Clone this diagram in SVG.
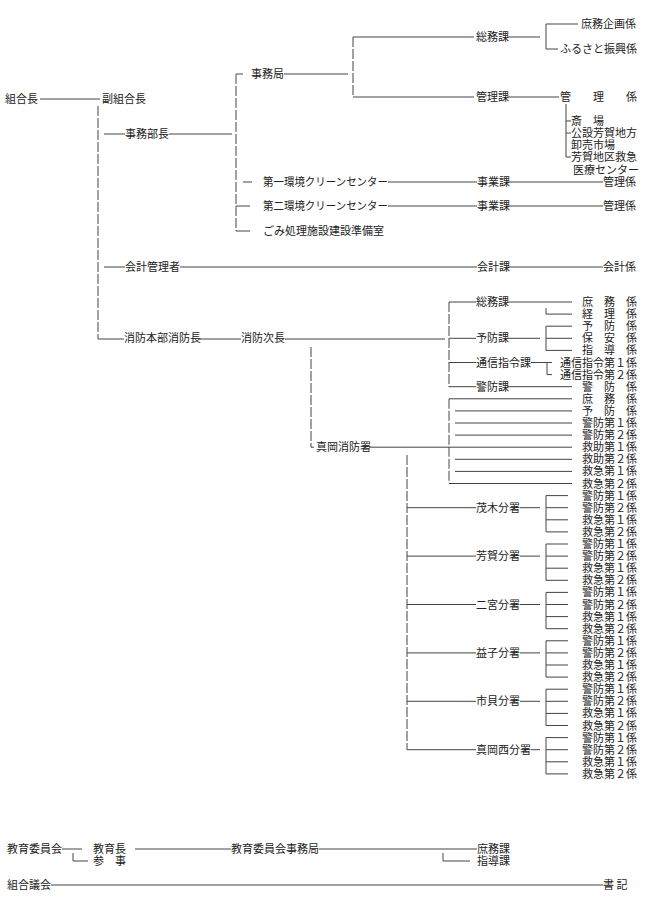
<svg xmlns="http://www.w3.org/2000/svg" width="650" height="912" viewBox="0 0 650 912">
<style>
.t{font-family:"Noto Sans CJK JP","Noto Sans CJK SC",sans-serif;font-size:11px;fill:#222}
.l{stroke:#444;stroke-width:1;fill:none}
.d{stroke-dasharray:10 2}
</style>
<rect width="650" height="912" fill="#fff"/>
<g id="connectors">
<path class="l" d="M40 99H100M104 134H125M169 134H232M104 267H125M180 267H477M98 339H124M200 339H241M285 339H445"/>
<path class="l d" d="M98 106V339"/>
<path class="l d" d="M236 74V231"/>
<path class="l" d="M236 74H243M243 182H252M236 206H250M236 231H250M284 74H348"/>
<path class="l d" d="M353 37V97"/>
<path class="l" d="M353 37H474M353 97H474M507 37H540M546 24H578M546 49H558M507 97H559"/>
<path class="l" d="M546 24V49"/>
<path class="l" d="M566 104V157M566 121H571M566 133H571M566 157H571"/>
<path class="l" d="M388 182H477M507 182H603M388 206H477M507 206H603M507 267H603"/>
<path class="l d" d="M449 302V387"/>
<path class="l" d="M449 302H476M449 338.3H476M449 362.5H476M449 386.7H476M507 302H572M546 308V314.1H572M507 338.3H540M546 326.2V350.4M546 326.2H572M546 338.3H572M546 350.4H572M531 362.5H552M547 362.5V374.6H552M507 386.7H572"/>
<path class="l d" d="M449 398.8V483.5"/>
<path class="l" d="M449 398.8H572M455 410.9H572M455 423H572M455 435.1H572M369 447.2H572M455 459.3H572M455 471.4H572M449 483.5H572"/>
<path class="l d" d="M311 347V447.2"/>
<path class="l" d="M311 447.2H314"/>
<path class="l d" d="M407 455V749.7"/>
<path class="l" d="M407 507.7H476M520 507.7H540M546 495.6V531.9M546 495.6H568M546 507.7H568M546 519.8H568M546 531.9H568"/>
<path class="l" d="M407 556.1H476M520 556.1H540M546 544V580.3M546 544H568M546 556.1H568M546 568.2H568M546 580.3H568"/>
<path class="l" d="M407 604.5H476M520 604.5H540M546 592.4V628.7M546 592.4H568M546 604.5H568M546 616.6H568M546 628.7H568"/>
<path class="l" d="M407 652.9H476M520 652.9H540M546 640.8V677.1M546 640.8H568M546 652.9H568M546 665H568M546 677.1H568"/>
<path class="l" d="M407 701.3H476M520 701.3H540M546 689.2V725.5M546 689.2H568M546 701.3H568M546 713.4H568M546 725.5H568"/>
<path class="l" d="M407 749.7H476M531 749.7H540M546 737.6V773.9M546 737.6H568M546 749.7H568M546 761.8H568M546 773.9H568"/>
<path class="l" d="M62 849H82M135 849H231M319 849H477M73 853V861H88M443 853V861H470M51 885H603"/>
</g>
<g id="n-kumiaicho"><text class="t" x="5" y="103">組合長</text></g>
<g id="n-fukukumiaicho"><text class="t" x="102" y="103">副組合長</text></g>
<g id="n-jimubucho"><text class="t" x="125" y="138">事務部長</text></g>
<g id="n-kaikeikanrisha"><text class="t" x="125" y="271">会計管理者</text></g>
<g id="n-shobohonbu"><text class="t" x="124" y="342.3">消防本部消防長</text></g>
<g id="n-shobojicho"><text class="t" x="241" y="342.3">消防次長</text></g>
<g id="n-jimukyoku"><text class="t" x="251" y="78">事務局</text></g>
<g id="n-clean1"><text class="t" x="263" y="186" textLength="125" lengthAdjust="spacingAndGlyphs">第一環境クリーンセンター</text></g>
<g id="n-clean2"><text class="t" x="263" y="210" textLength="125" lengthAdjust="spacingAndGlyphs">第二環境クリーンセンター</text></g>
<g id="n-gomi"><text class="t" x="263" y="235">ごみ処理施設建設準備室</text></g>
<g id="n-somuka"><text class="t" x="476" y="41">総務課</text></g>
<g id="n-kanrika"><text class="t" x="476" y="101">管理課</text></g>
<g id="n-shomukikaku"><text class="t" x="581" y="28">庶務企画係</text></g>
<g id="n-furusato"><text class="t" x="560" y="53">ふるさと振興係</text></g>
<g id="n-kanrigakari"><text class="t" x="560" y="101">管　　理　　係</text></g>
<g id="n-saijo"><text class="t" x="571" y="125">斎　場</text></g>
<g id="n-oroshiuri"><text class="t" x="571" y="137">公設芳賀地方</text><text class="t" x="571" y="149">卸売市場</text></g>
<g id="n-kyukyu"><text class="t" x="571" y="161">芳賀地区救急</text><text class="t" x="573" y="174">医療センター</text></g>
<g id="n-jigyo1"><text class="t" x="477" y="186">事業課</text></g>
<g id="n-kanri1"><text class="t" x="603" y="186">管理係</text></g>
<g id="n-jigyo2"><text class="t" x="477" y="210">事業課</text></g>
<g id="n-kanri2"><text class="t" x="603" y="210">管理係</text></g>
<g id="n-kaikeika"><text class="t" x="477" y="271">会計課</text></g>
<g id="n-kaikeigakari"><text class="t" x="603" y="271">会計係</text></g>
<g id="n-fs-somu"><text class="t" x="476" y="306">総務課</text></g>
<g id="n-fs-yobo"><text class="t" x="476" y="342.3">予防課</text></g>
<g id="n-fs-tsushin"><text class="t" x="476" y="366.5">通信指令課</text></g>
<g id="n-fs-keibo"><text class="t" x="476" y="390.7">警防課</text></g>
<g id="n-fs-kakari">
<text class="t" x="582" y="306">庶　務　係</text>
<text class="t" x="582" y="318.1">経　理　係</text>
<text class="t" x="582" y="330.2">予　防　係</text>
<text class="t" x="582" y="342.3">保　安　係</text>
<text class="t" x="582" y="354.4">指　導　係</text>
<text class="t" x="560" y="366.5">通信指令第１係</text>
<text class="t" x="560" y="378.6">通信指令第２係</text>
<text class="t" x="582" y="390.7">警　防　係</text>
</g>
<g id="n-mokashobosho"><text class="t" x="316" y="451.2">真岡消防署</text></g>
<g id="n-mokashobosho-kakari">
<text class="t" x="582" y="402.8">庶　務　係</text>
<text class="t" x="582" y="414.9">予　防　係</text>
<text class="t" x="582" y="427">警防第１係</text>
<text class="t" x="582" y="439.1">警防第２係</text>
<text class="t" x="582" y="451.2">救助第１係</text>
<text class="t" x="582" y="463.3">救助第２係</text>
<text class="t" x="582" y="475.4">救急第１係</text>
<text class="t" x="582" y="487.5">救急第２係</text>
</g>
<g id="n-motegi"><text class="t" x="476" y="511.7">茂木分署</text>
<text class="t" x="582" y="499.6">警防第１係</text><text class="t" x="582" y="511.7">警防第２係</text><text class="t" x="582" y="523.8">救急第１係</text><text class="t" x="582" y="535.9">救急第２係</text></g>
<g id="n-haga"><text class="t" x="476" y="560.1">芳賀分署</text>
<text class="t" x="582" y="548">警防第１係</text><text class="t" x="582" y="560.1">警防第２係</text><text class="t" x="582" y="572.2">救急第１係</text><text class="t" x="582" y="584.3">救急第２係</text></g>
<g id="n-ninomiya"><text class="t" x="476" y="608.5">二宮分署</text>
<text class="t" x="582" y="596.4">警防第１係</text><text class="t" x="582" y="608.5">警防第２係</text><text class="t" x="582" y="620.6">救急第１係</text><text class="t" x="582" y="632.7">救急第２係</text></g>
<g id="n-mashiko"><text class="t" x="476" y="656.9">益子分署</text>
<text class="t" x="582" y="644.8">警防第１係</text><text class="t" x="582" y="656.9">警防第２係</text><text class="t" x="582" y="669">救急第１係</text><text class="t" x="582" y="681.1">救急第２係</text></g>
<g id="n-ichikai"><text class="t" x="476" y="705.3">市貝分署</text>
<text class="t" x="582" y="693.2">警防第１係</text><text class="t" x="582" y="705.3">警防第２係</text><text class="t" x="582" y="717.4">救急第１係</text><text class="t" x="582" y="729.5">救急第２係</text></g>
<g id="n-mokanishi"><text class="t" x="476" y="753.7">真岡西分署</text>
<text class="t" x="582" y="741.6">警防第１係</text><text class="t" x="582" y="753.7">警防第２係</text><text class="t" x="582" y="765.8">救急第１係</text><text class="t" x="582" y="777.9">救急第２係</text></g>
<g id="n-kyoikuiinkai"><text class="t" x="7" y="853">教育委員会</text></g>
<g id="n-kyoikucho"><text class="t" x="93" y="853">教育長</text></g>
<g id="n-sanji"><text class="t" x="93" y="865">参　事</text></g>
<g id="n-kyoikujimukyoku"><text class="t" x="231" y="853">教育委員会事務局</text></g>
<g id="n-shomuka"><text class="t" x="477" y="853">庶務課</text></g>
<g id="n-shidoka"><text class="t" x="477" y="865">指導課</text></g>
<g id="n-gikai"><text class="t" x="7" y="889">組合議会</text></g>
<g id="n-shoki"><text class="t" x="603" y="889">書 記</text></g>
</svg>
